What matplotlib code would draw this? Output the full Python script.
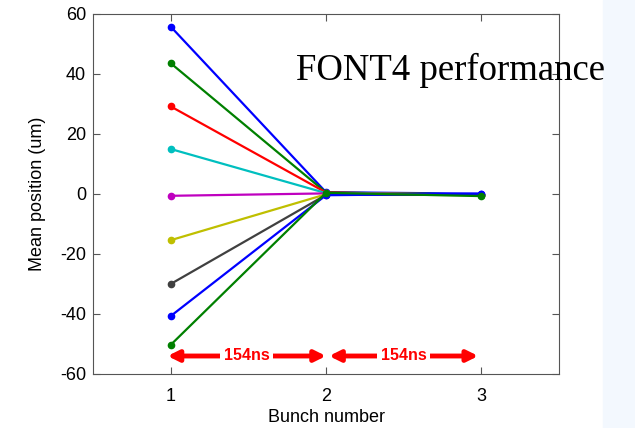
import numpy as np
import matplotlib.pyplot as plt

plt.rcParams["font.family"] = ["Liberation Sans", "DejaVu Sans"]
plt.rcParams["axes.unicode_minus"] = False

# Mittlere Strahlposition pro Bunch (FONT4-Feedback)
bunch = [1, 2, 3]
pos1 = [55.8, 43.6, 29.2, 15.0, -0.6, -15.4, -30.0, -40.7, -50.3]
pos2 = [0.6, 0.5, 0.5, 0.3, 0.2, -0.1, -0.3, -0.4, 0.4]
pos3 = [0.1, -0.2, -0.3, -0.2, -0.3, -0.4, -0.3, 0.1, -0.7]
farben = [(0, 0, 1), (0, 0.5, 0), (1, 0, 0), (0, 0.75, 0.75), (0.75, 0, 0.75),
          (0.75, 0.75, 0), (0.25, 0.25, 0.25), (0, 0, 1), (0, 0.5, 0)]
abstand = "154ns"

fig = plt.figure(figsize=(6.35, 4.28), dpi=100)
fig.patches.append(plt.Rectangle((603 / 635, 0), 32 / 635, 1, transform=fig.transFigure,
                                 color="#f3f8fe", zorder=0))
ax = fig.add_axes([93 / 635, 54 / 428, 466 / 635, 360 / 428])

for p1, p2, p3, c in zip(pos1, pos2, pos3, farben):
    ax.plot(bunch, [p1, p2, p3], "-o", color=c, lw=1.6, ms=4.5)

ax.set_xlim(0.5, 3.5)
ax.set_ylim(-60, 60)
ax.set_xticks(bunch)
ax.set_yticks(range(-60, 61, 20))
ax.tick_params(direction="in", top=True, right=True, length=5, labelsize=13,
               color="#555555")
ax.tick_params(axis="y", pad=5)
ax.tick_params(axis="x", pad=10)
for s in ax.spines.values():
    s.set_color("#555555")
ax.set_xlabel("Bunch number", fontsize=13, labelpad=3)
ax.set_ylabel("Mean position (um)", fontsize=13, labelpad=10)

# Pfeile für den Bunch-Abstand
for a, b in [(0.98, 2.0), (2.02, 2.98)]:
    ax.annotate("", xy=(a, -54), xytext=(b, -54),
                arrowprops=dict(arrowstyle="<|-|>", color="red", lw=3.5,
                                mutation_scale=16, shrinkA=0, shrinkB=0))
    ax.text((a + b) / 2, -54, abstand, color="red", fontsize=11.5, fontweight="bold",
            ha="center", va="center",
            bbox=dict(facecolor="white", edgecolor="none", pad=2.5))

fig.text(296 / 635, 1 - 80 / 428, "FONT4 performance", family="Liberation Serif",
         fontsize=26.5, va="baseline")

plt.savefig("out.png")
